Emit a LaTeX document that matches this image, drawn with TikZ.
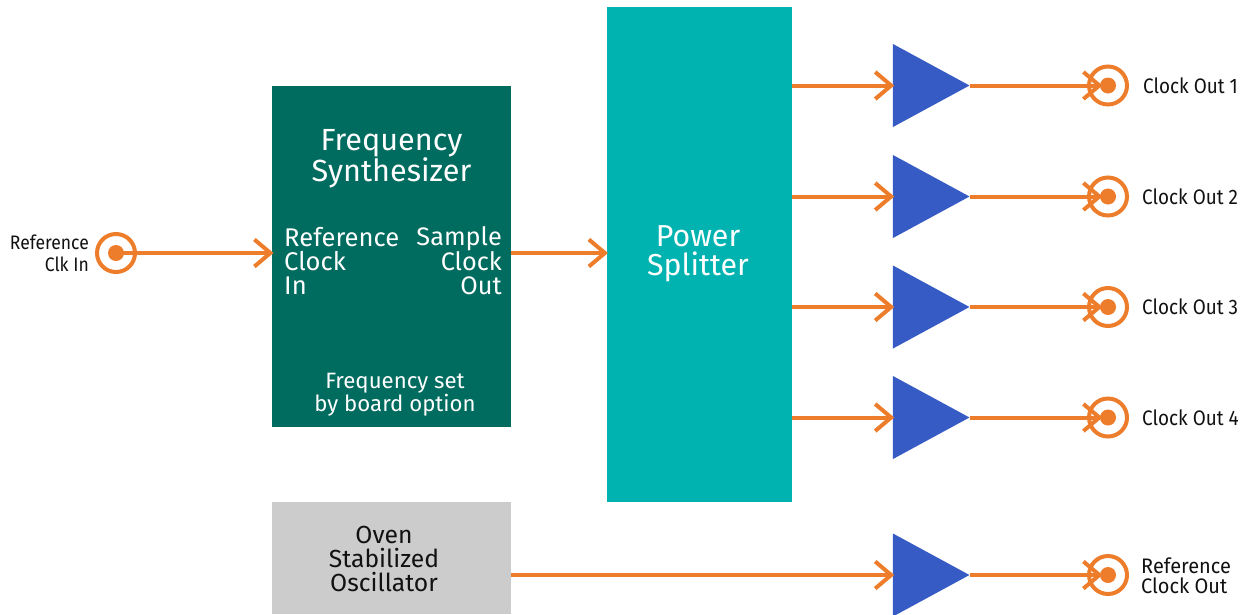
\documentclass[tikz,border=0pt]{standalone}
\usepackage{fontspec}
\setmainfont{Fira Sans}
\newfontfamily\narrowfont[FakeStretch=0.9]{Fira Sans}
\newfontfamily\slimfont[FakeStretch=0.95]{Fira Sans}
\usetikzlibrary{shapes.geometric,arrows.meta}
\definecolor{synth}{HTML}{006B5F}
\definecolor{split}{HTML}{00B3B0}
\definecolor{osc}{HTML}{CCCCCC}
\definecolor{amp}{HTML}{375BC4}
\definecolor{wire}{HTML}{ED7D2B}
\definecolor{ink}{HTML}{111111}
\tikzset{
 x=1pt,y=-1pt,
 blockbox/.style={rectangle,inner sep=0pt,anchor=north west,minimum width=#1},
 amptri/.style={isosceles triangle,isosceles triangle stretches,shape border rotate=0,fill=amp,inner sep=0pt,minimum width=83pt,minimum height=76.5pt,anchor=apex},
 portring/.style={circle,draw=wire,line width=4pt,fill=none,minimum size=38pt,inner sep=0pt},
 portdot/.style={circle,fill=wire,minimum size=16pt,inner sep=0pt},
 wireline/.style={draw=wire,line width=4pt,shorten >=-1.5pt,-{Straight Barb[length=16pt,width=27pt]}},
 wtext/.style={text=white,align=center,inner sep=0pt},
 ltext/.style={text=ink,inner sep=0pt},
}
\newcommand{\ltx}[2]{\fontsize{#1}{#2}\selectfont}
\begin{document}
\begin{tikzpicture}
\useasboundingbox (0,0) rectangle (1252,614);
\node[blockbox=239pt,minimum height=341.5pt,fill=synth] (fs) at (272,85.5) {};
\node[blockbox=185.5pt,minimum height=495pt,fill=split] (ps) at (606.5,7) {};
\node[blockbox=239pt,minimum height=112pt,fill=osc] (ov) at (272,502) {};
\node[wtext,font=\ltx{30.6}{28}] (fst) at (391.5,159) {Frequency\\Synthesizer};
\node[wtext,align=left,anchor=west,font=\ltx{25.6}{24}] (fr) at (284,261) {Reference\\Clock\\In};
\node[wtext,align=right,anchor=east,font=\ltx{25.3}{24}] (fo) at (502,260.5) {Sample\\Clock\\Out};
\node[wtext,font=\ltx{22.2}{22}] (fb) at (395,395) {Frequency set\\by board option};
\node[wtext,font=\ltx{30.3}{29}] (pt) at (698,253.5) {Power\\Splitter};
\node[ltext,align=center,font=\ltx{24.7}{24}] (ot) at (384,559) {Oven\\Stabilized\\Oscillator};
\coordinate (fsin) at (fs.west|-0,253);
\coordinate (fsout) at (fs.east|-0,253);
\coordinate (psin) at (ps.west|-0,253);
\node[portdot] (rd) at (116,253) {};
\node[portring] (rr) at (116,253) {};
\node[ltext,align=right,anchor=east,font=\narrowfont\ltx{19.5}{22}] (rl) at (89,253) {Reference\\Clk In};
\draw[wireline] (rd.center) -- (fsin);
\draw[wireline] (fsout) -- (psin);
\foreach \n/\y/\t/\tx in {a/85.5/Clock Out 1/1143,b/196.5/Clock Out 2/1142,c/307/Clock Out 3/1142,d/417.5/Clock Out 4/1142}{
 \node[amptri] (amp\n) at (970,\y) {};
 \node[portdot] (dot\n) at (1108,\y) {};
 \node[portring] (ring\n) at (1108,\y) {};
 \node[ltext,anchor=west,font=\narrowfont\ltx{21}{22}] (lab\n) at (\tx,\y) {\t};
 \coordinate (src\n) at (ps.east|-0,\y);
 \coordinate (end\n) at (1101,\y);
 \draw[wireline] (src\n) -- (amp\n.lower side);
 \draw[wireline] (amp\n.apex) -- (end\n);
}
\node[amptri] (ampe) at (970,575) {};
\node[portdot] (dote) at (1108,575) {};
\node[portring] (ringe) at (1108,575) {};
\node[ltext,anchor=west,align=left,font=\slimfont\ltx{21}{20}] (labe) at (1141,575.5) {Reference\\Clock Out};
\coordinate (srce) at (ov.east|-0,575);
\coordinate (ende) at (1101,575);
\draw[wireline] (srce) -- (ampe.lower side);
\draw[wireline] (ampe.apex) -- (ende);
\end{tikzpicture}
\end{document}
